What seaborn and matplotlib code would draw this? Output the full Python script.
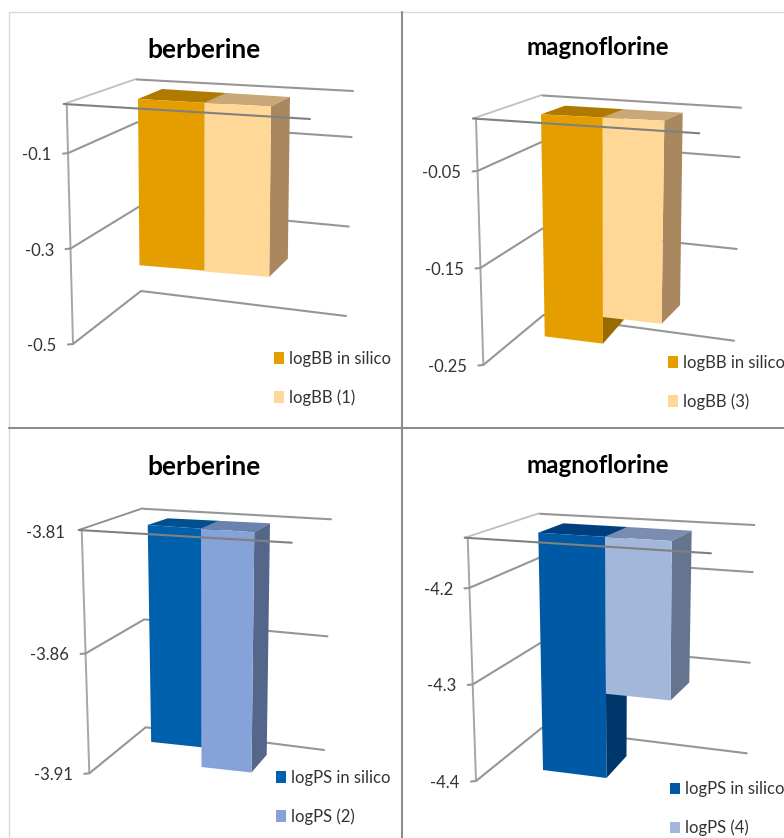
import numpy as np
import pandas as pd
import seaborn as sns
import matplotlib.pyplot as plt
import matplotlib.transforms as mtransforms
from matplotlib.lines import Line2D
from matplotlib.patches import Patch, Polygon

# values
titles = ["berberine", "magnoflorine", "berberine", "magnoflorine"]
series_bb1 = ["logBB in silico", "logBB (1)"]
series_bb3 = ["logBB in silico", "logBB (3)"]
series_ps2 = ["logPS in silico", "logPS (2)"]
series_ps4 = ["logPS in silico", "logPS (4)"]
values_bb1 = [-0.359, -0.361]
values_bb3 = [-0.234, -0.206]
values_ps2 = [-3.9014, -3.9098]
values_ps4 = [-4.400, -4.312]
ticks_bb1 = [-0.1, -0.3, -0.5]
ticks_bb3 = [-0.05, -0.15, -0.25]
ticks_ps2 = [-3.81, -3.86, -3.91]
ticks_ps4 = [-4.2, -4.3, -4.4]
tick_labels_bb1 = ["-0.1", "-0.3", "-0.5"]
tick_labels_bb3 = ["-0.05", "-0.15", "-0.25"]
tick_labels_ps2 = ["-3.81", "-3.86", "-3.91"]
tick_labels_ps4 = ["-4.2", "-4.3", "-4.4"]
axis_tops = [0.003, 0.004, -3.8085, -4.148]

W, H = 784, 838

# 3D look of each panel, in picture pixels
panels = [
    dict(series=series_bb1, values=values_bb1, ticks=ticks_bb1, labels=tick_labels_bb1,
         title_xy=(204, 50), title_size=19, legend_xy=(274, 350.7),
         faces=["#E59E00", "#FFD898"], tops=["#B07A00", "#C9A776"], sides=["#996A00", "#A98860"],
         p0=(66.7, 104), p1=(73, 344), bt=(136, 79), bb=(141, 291), rt=(353, 91), rb=(346, 316),
         ft=(310, 119), top_col="#BFBFBF",
         front=[(138, 99), (271, 106.5), (140, 330), (268.5, 342)],
         back=[(162, 89), (290, 97), (163, 309), (287, 320.5)]),
    dict(series=series_bb3, values=values_bb3, ticks=ticks_bb3, labels=tick_labels_bb3,
         title_xy=(598, 47.7), title_size=17.4, legend_xy=(667.7, 354.7),
         faces=["#E59E00", "#FFD898"], tops=["#B07A00", "#C9A776"], sides=["#996A00", "#A98860"],
         p0=(476, 118.5), p1=(483.3, 365), bt=(541.7, 95), bb=(543.5, 315), rt=(741, 107.7), rb=(734, 340.7),
         ft=(699.3, 133.3), top_col="#BFBFBF",
         front=[(541, 114.3), (664.3, 120.7), (545, 351.3), (661, 366.4)],
         back=[(565, 105.7), (682.7, 112.7), (568, 322.7), (679.5, 345.5)]),
    dict(series=series_ps2, values=values_ps2, ticks=ticks_ps2, labels=tick_labels_ps2,
         title_xy=(204, 466.7), title_size=19, legend_xy=(276, 770),
         faces=["#0060AC", "#85A3D8"], tops=["#004F8E", "#6A83AE"], sides=["#003F73", "#54668A"],
         p0=(81.7, 530), p1=(89.3, 773.3), bt=(142.7, 508.3), bb=(145.7, 727.3), rt=(331, 519.3), rb=(324, 750),
         ft=(291.7, 542.7), top_col="#8C8C8C",
         front=[(147.7, 525), (254.3, 532.3), (151.5, 762), (251.5, 773)],
         back=[(167.7, 518.3), (270, 523.3), (170, 746), (266.7, 755.3)]),
    dict(series=series_ps4, values=values_ps4, ticks=ticks_ps4, labels=tick_labels_ps4,
         title_xy=(598, 465), title_size=17.4, legend_xy=(670, 781.2),
         faces=["#0059A4", "#A3B7DB"], tops=["#003F7F", "#7A8CB0"], sides=["#00376B", "#65758F"],
         p0=(467.7, 537.7), p1=(476, 781), bt=(539, 513.3), bb=(541.7, 728), rt=(754.3, 525), rb=(746.7, 753.3),
         ft=(711, 553.3), top_col="#BFBFBF",
         front=[(538.3, 532.7), (671.7, 541), (543, 770), (670, 786)],
         back=[(563.3, 523.3), (691.7, 530.7), (565, 748.4), (688, 763.9)]),
]


class QuadWarp(mtransforms.Transform):
    """Bends the unit square of an axes onto a four cornered plane."""
    input_dims = 2
    output_dims = 2

    def __init__(self, quad):
        super().__init__()
        self.quad = np.array(quad, dtype=float)

    def transform_non_affine(self, values):
        values = np.asarray(values, dtype=float)
        u = values[:, 0:1]
        t = 1 - values[:, 1:2]
        tl, tr, bl, br = self.quad
        return (1 - t) * ((1 - u) * tl + u * tr) + t * ((1 - u) * bl + u * br)


def lerp(a, b, t):
    return (a[0] + (b[0] - a[0]) * t, a[1] + (b[1] - a[1]) * t)


sns.set_theme(style="white")
plt.rcParams["font.family"] = ["Lato", "DejaVu Sans"]

fig = plt.figure(figsize=(W / 100, H / 100), dpi=100)
pix = mtransforms.Affine2D().scale(1, -1).translate(0, H)

# panel borders
for xs, ys, col, lw in [
    ([9, 9], [12, 838], "#D9D9D9", 1.0),
    ([9, 784], [12, 12], "#D9D9D9", 1.0),
    ([401.5, 401.5], [12, 838], "#8C8C8C", 1.5),
    ([9, 784], [428, 428], "#8C8C8C", 1.5),
]:
    fig.add_artist(Line2D(xs, ys, color=col, lw=lw, transform=pix))

for title, top, p in zip(titles, axis_tops, panels):
    (x0, y0), (x1, y1) = p["front"][0], p["front"][3]
    ax = fig.add_axes([x0 / W, 1 - y1 / H, (x1 - x0) / W, (y1 - y0) / H])

    df = pd.DataFrame({"series": p["series"], "value": p["values"]})
    sns.barplot(data=df, x="series", y="value", hue="series", palette=p["faces"],
                saturation=1, width=1, dodge=False, legend=False, linewidth=0, ax=ax)
    bottom = p["ticks"][-1]
    ax.set_xlim(-0.5, 1.5)
    ax.set_ylim(bottom, top)
    ax.axis("off")

    front = ax.transLimits + QuadWarp(p["front"])
    back = ax.transLimits + QuadWarp(p["back"])

    # bars hang from the top of the axis
    for i, bar in enumerate(ax.patches):
        val = bar.get_height()
        bar.set_y(top)
        bar.set_height(val - top)
        bar.set_transform(front + pix)
        bar.set_clip_on(False)
        bar.set_zorder(3)

        xl, xr = bar.get_x(), bar.get_x() + bar.get_width()
        top_pts = np.vstack([front.transform([(xl, top), (xr, top)]),
                             back.transform([(xr, top), (xl, top)])])
        side_pts = np.vstack([front.transform([(xr, top), (xr, val)]),
                              back.transform([(xr, val), (xr, top)])])
        ax.add_patch(Polygon(top_pts, closed=True, fc=p["tops"][i], ec="none",
                             transform=pix, clip_on=False, zorder=2))
        ax.add_patch(Polygon(side_pts, closed=True, fc=p["sides"][i], ec="none",
                             transform=pix, clip_on=False, zorder=2))

    # walls of the box, value axis and gridlines
    ax.plot([p["p0"][0], p["p1"][0]], [p["p0"][1], p["p1"][1]], color="#A6A6A6", lw=1.4,
            transform=pix, clip_on=False, zorder=1)
    ax.plot([p["p0"][0] - 3, p["bt"][0]], [p["p0"][1], p["bt"][1]], color=p["top_col"], lw=1.3,
            transform=pix, clip_on=False, zorder=1)
    ax.plot([p["bt"][0] + 1, p["rt"][0]], [p["bt"][1] + 0.5, p["rt"][1]], color="#969696", lw=1.5,
            transform=pix, clip_on=False, zorder=1)
    for tick, label in zip(p["ticks"], p["labels"]):
        t = (top - tick) / (top - bottom)
        lx, ly = lerp(p["p0"], p["p1"], t)
        bx, by = lerp(p["bt"], p["bb"], t)
        rx, ry = lerp(p["rt"], p["rb"], t)
        if t > 0.05:
            ax.plot([lx - 5, lx, bx, rx], [ly + 0.5, ly, by, ry], color="#969696", lw=1.5,
                    transform=pix, clip_on=False, zorder=1)
        else:
            # this tick sits on the top corner of the box
            ly = p["p0"][1] + 0.5
        ax.text(lx - 16.5, ly + 2, label, ha="right", va="center", fontsize=12,
                color="#333333", transform=pix)
    ax.plot([p["p0"][0] - 3, p["ft"][0]], [p["p0"][1], p["ft"][1]], color="#808080", lw=1.5,
            transform=pix, clip_on=False, zorder=4)

    ax.text(p["title_xy"][0], p["title_xy"][1], title, ha="center", va="center",
            fontsize=p["title_size"], fontweight="bold", color="black", transform=pix)

    handles = [Patch(fc=c, ec="none", label=s) for c, s in zip(p["faces"], p["series"])]
    ax.legend(handles=handles, loc="upper left", bbox_to_anchor=p["legend_xy"], bbox_transform=pix,
              frameon=False, fontsize=12, labelspacing=1.35, handlelength=0.62, handleheight=0.68,
              handletextpad=0.3, borderpad=0, borderaxespad=0, labelcolor="#333333")

fig.savefig("out.png", dpi=100, facecolor="white")
